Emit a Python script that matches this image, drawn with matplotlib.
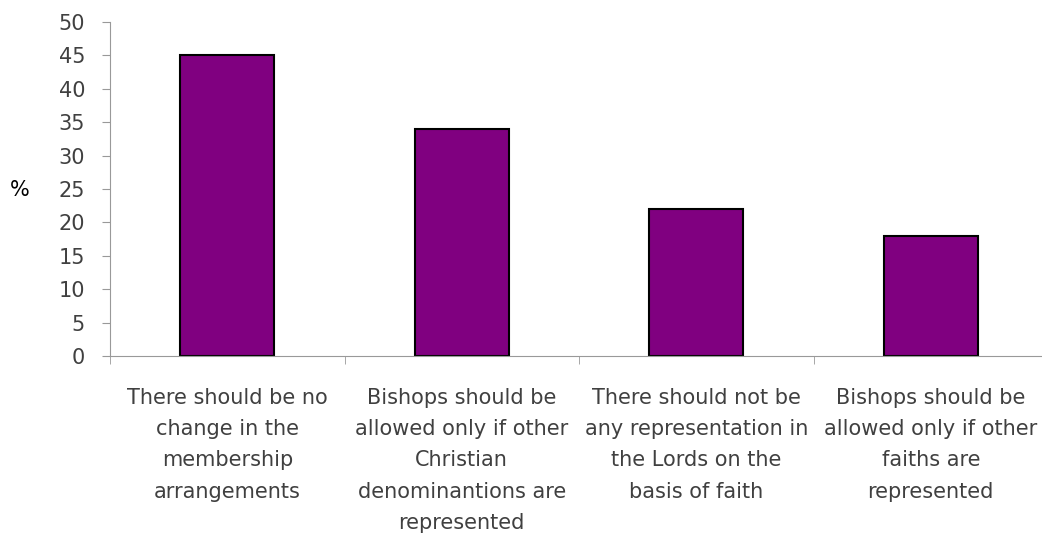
import matplotlib.pyplot as plt
import numpy as np

categories = [
    "There should be no\nchange in the\nmembership\narrangements",
    "Bishops should be\nallowed only if other\nChristian\ndenominantions are\nrepresented",
    "There should not be\nany representation in\nthe Lords on the\nbasis of faith",
    "Bishops should be\nallowed only if other\nfaiths are\nrepresented",
]
values = [45, 34, 22, 18]
yticks = list(range(0, 51, 5))

fig = plt.figure(figsize=(10.42, 5.34), dpi=100)
ax = fig.add_axes([110 / 1042, 1 - 356 / 534, 938 / 1042, 334 / 534])

x = np.arange(len(categories))
ax.bar(x, values, width=0.4, color="#800080", edgecolor="black", linewidth=1.5)

ax.set_xlim(-0.5, len(categories) - 0.5)
ax.set_ylim(0, 50)
ax.set_yticks(yticks)
ax.set_yticklabels([str(t) for t in yticks], fontsize=15, color="#404040")

# category labels at centres, tick marks at the boundaries
ax.set_xticks(x)
ax.set_xticklabels(categories, fontsize=15, color="#404040", linespacing=1.7)
ax.set_xticks(np.arange(len(categories) + 1) - 0.5, minor=True)
ax.tick_params(axis="x", which="major", length=0, pad=23)
ax.tick_params(axis="x", which="minor", length=6, color="#999999")
ax.tick_params(axis="y", length=6, color="#999999", pad=12)

for s in ["top", "right"]:
    ax.spines[s].set_visible(False)
for s in ["left", "bottom"]:
    ax.spines[s].set_color("#999999")
ax.spines["bottom"].set_clip_on(False)

fig.text(20 / 1042, 1 - 190 / 534, "%", fontsize=15, ha="center", va="center")

fig.savefig("out.png", dpi=100)
